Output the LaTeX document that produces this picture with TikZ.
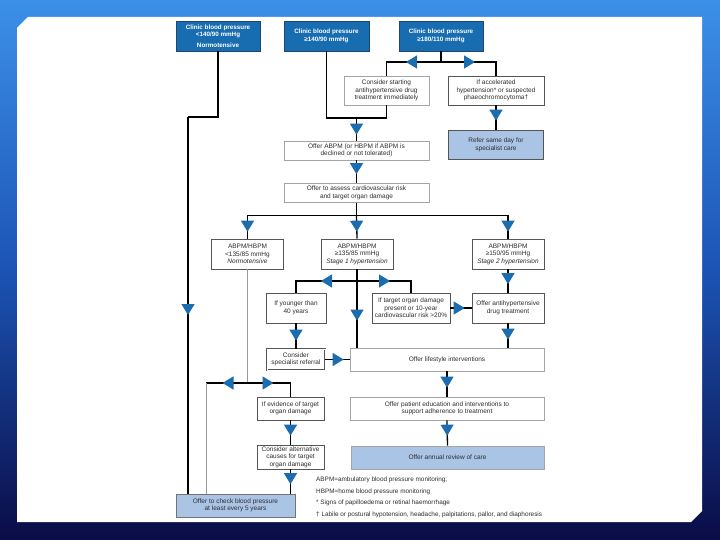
\documentclass[tikz,border=0pt]{standalone}
\usepackage{fontspec}
\setmainfont{Liberation Sans}
\usetikzlibrary{arrows.meta,decorations.markings}
\definecolor{hdrblue}{RGB}{24,108,176}
\definecolor{hdrline}{RGB}{30,70,110}
\definecolor{arrowblue}{RGB}{28,108,176}
\definecolor{lightfill}{RGB}{170,196,230}
\definecolor{bgtop}{RGB}{60,144,232}
\definecolor{bgmid}{RGB}{28,84,180}
\definecolor{bgbot}{RGB}{10,12,70}
\definecolor{txt}{RGB}{45,45,45}
\definecolor{lightedge}{RGB}{165,165,165}
\definecolor{darkedge}{RGB}{85,85,85}
\begin{document}
\begin{tikzpicture}[x=1bp,y=-1bp,
  basebox/.style={align=center, inner sep=0pt, text=txt,
    font=\fontsize{6.5bp}{7.6bp}\selectfont, line width=0.7bp},
  hdr/.style={basebox, fill=hdrblue, draw=hdrline, text=white,
    font=\fontsize{6.3bp}{7.6bp}\selectfont\bfseries},
  wbox/.style={basebox, fill=white, draw=lightedge},
  dbox/.style={basebox, fill=white, draw=darkedge},
  lbox/.style={basebox, fill=lightfill, draw=lightedge},
  blk/.style={draw=black, line width=1.3bp},
  gry/.style={draw=gray!80, line width=1bp},
  arr/.style={postaction={decorate}, decoration={markings,
    mark=at position #1 with {\arrow{Triangle[width=13bp,length=11bp,color=arrowblue]}}}},
  fn/.style={anchor=west, inner sep=0pt, text=txt, font=\fontsize{6.4bp}{7.6bp}\selectfont}
]
\useasboundingbox (0,0) rectangle (720,540);
\shade[top color=bgtop, bottom color=bgbot, middle color=bgmid] (0,0) rectangle (720,540);
\fill[white] (17,28) -- (28,17) -- (702,17) -- (702,511) -- (691,522) -- (17,522) -- cycle;

% nodes
\node[hdr, minimum width=84bp, minimum height=30bp] (n1) at (218,36) {Clinic blood pressure\\ <140/90 mmHg\\[2.5bp] Normotensive};
\node[hdr, minimum width=85bp, minimum height=30bp] (n2) at (326.5,36) {Clinic blood pressure\\ ≥140/90 mmHg};
\node[hdr, minimum width=84bp, minimum height=30bp] (n3) at (441,36) {Clinic blood pressure\\ ≥180/110 mmHg};
\node[wbox, minimum width=85bp, minimum height=29bp] (n4) at (386.5,90.5) {Consider starting\\ antihypertensive drug\\ treatment immediately};
\node[dbox, minimum width=96bp, minimum height=29bp] (n5) at (496,90.5) {If accelerated\\ hypertension* or suspected\\ phaeochromocytoma†};
\node[lbox, draw=darkedge, line width=1.8bp, minimum width=95bp, minimum height=29bp] (n6) at (496,145) {Refer same day for\\ specialist care};
\node[wbox, minimum width=145bp, minimum height=19bp] (n7) at (356.5,150.5) {Offer ABPM (or HBPM if ABPM is\\ declined or not tolerated)};
\node[wbox, minimum width=145bp, minimum height=19bp] (n8) at (356.5,193) {Offer to assess cardiovascular risk\\ and target organ damage};
\node[dbox, minimum width=72bp, minimum height=30bp] (n9) at (247.5,254) {ABPM/HBPM\\ <135/85 mmHg\\ \textit{Normotensive}};
\node[dbox, minimum width=72bp, minimum height=30bp] (n10) at (357,254) {ABPM/HBPM\\ ≥135/85 mmHg\\ \textit{Stage 1 hypertension}};
\node[dbox, minimum width=72bp, minimum height=30bp] (n11) at (508,254) {ABPM/HBPM\\ ≥150/95 mmHg\\ \textit{Stage 2 hypertension}};
\node[dbox, minimum width=60bp, minimum height=30bp] (n12) at (296,308) {If younger than\\ 40 years};
\node[dbox, minimum width=78bp, minimum height=30bp] (n13) at (411,308) {If target organ damage\\ present or 10-year\\ cardiovascular risk >20\%};
\node[dbox, minimum width=72bp, minimum height=30bp] (n14) at (508,308) {Offer antihypertensive\\ drug treatment};
\node[basebox, fill=white, draw=darkedge, line width=0.8bp, double=white, double distance=1bp, minimum width=58bp, minimum height=21bp] (n15) at (296,359.5) {Consider\\ specialist referral};
\node[wbox, minimum width=194bp, minimum height=23bp] (n16) at (447,359.5) {Offer lifestyle interventions};
\node[dbox, minimum width=67bp, minimum height=23bp] (n17) at (290.5,408.5) {If evidence of target\\ organ damage};
\node[wbox, minimum width=194bp, minimum height=23bp] (n18) at (447,408.5) {Offer patient education and interventions to\\ support adherence to treatment};
\node[dbox, minimum width=67bp, minimum height=24bp] (n19) at (290.5,457) {Consider alternative\\ causes for target\\ organ damage};
\node[lbox, minimum width=193bp, minimum height=23bp] (n20) at (447.5,457.5) {Offer annual review of care};
\node[lbox, draw=gray!90!black, minimum width=119bp, minimum height=23bp] (n21) at (235.5,505.5) {Offer to check blood pressure\\ at least every 5 years};

% footnotes
\node[fn] (fn1) at (316,480) {ABPM=ambulatory blood pressure monitoring;};
\node[fn] (fn2) at (316,491.5) {HBPM=home blood pressure monitoring};
\node[fn] (fn3) at (316,503) {* Signs of papilloedema or retinal haemorrhage};
\node[fn] (fn4) at (316,514.5) {† Labile or postural hypotension, headache, palpitations, pallor, and diaphoresis};

% junction coordinates
\coordinate (j1) at (188,117);
\coordinate (j2) at (356.5,118);
\coordinate (j3) at (441,62);
\coordinate (j8) at (356.5,215.5);
\coordinate (j10) at (357,281);
\coordinate (j9) at (247.5,383);
\coordinate (j9l) at (206,383);

% connectors
\draw[blk] (n1.south) |- (j1);
\draw[blk, arr=198bp] (j1) -- (j1 |- n21.north);
\draw[blk] (n2.south) |- (j2);
\draw[blk] (n4.south) |- (j2);
\draw[blk, arr=-6bp] (j2) -- (n7.north);
\draw[blk] (n3.south) -- (j3);
\draw[blk, arr=35bp] (j3) -| (n4.north);
\draw[blk, arr=34bp] (j3) -| (n5.north);
\draw[blk, arr=-9bp] (n5.south) -- (n6.north);
\draw[blk, arr=-9bp] (n7.south) -- (n8.north);
\draw[blk] (n8.south) -- (j8);
\draw[blk, arr=-7bp] (j8) -| (n9.north);
\draw[blk, arr=-7bp] (j8) -- (n10.north);
\draw[blk, arr=-7bp] (j8) -| (n11.north);
\draw[blk, arr=-27bp] (n10.south) -- (n10.south |- n16.north);
\draw[blk, arr=36bp] (j10) -| (n12.north);
\draw[blk, arr=33bp] (j10) -| (n13.north);
\draw[blk, arr=-8.5bp] (n11.south) -- (n14.north);
\draw[blk, arr=-7bp] (n13.east) -- (n14.west);
\draw[blk, arr=-8bp] (n12.south) -- (n15.north);
\draw[blk, arr=-8bp] (n14.south) -- (n14.south |- n16.north);
\draw[blk, arr=-6bp] (n15.east) -- (n16.west);
\draw[blk, arr=-9bp] (n16.south) -- (n18.north);
\draw[blk, arr=-10bp] (n18.south) -- (n20.north);
\draw[gry] (n9.south) -- (j9);
\draw[blk, arr=25bp] (j9) -- (j9l);
\draw[gry] (j9l) -- (j9l |- n21.north);
\draw[blk, arr=26bp] (j9) -| (n17.north);
\draw[blk, arr=-9bp] (n17.south) -- (n19.north);
\draw[blk, arr=-9.5bp] (n19.south) -- (n19.south |- n21.north);
\end{tikzpicture}
\end{document}
